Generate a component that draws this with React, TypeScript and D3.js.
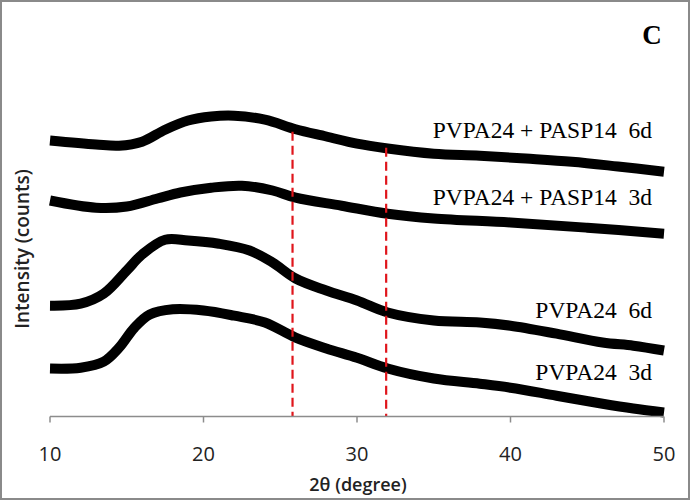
import React from "react";
import * as d3 from "d3";

const xTicks = [10, 20, 30, 40, 50];
const refLines = [25.8, 31.9];

const s1x = [10, 13, 14.5, 16, 17.5, 19, 20.5, 22, 24, 26, 28, 30, 32, 35, 38, 41, 44, 47, 50];
const s1y = [690, 680, 677, 687, 717, 740, 750, 752, 742, 718, 700, 682, 670, 657, 652, 645, 637, 625, 612];
const s2x = [10, 13, 15, 17, 18.5, 20.5, 22.5, 24.5, 26, 29, 32, 35, 40, 45, 50];
const s2y = [540, 522, 525, 545, 560, 572, 577, 565, 547, 527, 507, 495, 485, 472, 457];
const s3x = [10, 12, 13.5, 15, 16, 17.5, 19, 21, 23, 24.5, 26, 28, 30, 32, 35, 38, 40, 43, 46, 48, 50];
const s3y = [277, 282, 307, 365, 405, 442, 440, 432, 415, 385, 345, 315, 290, 260, 240, 235, 227, 207, 185, 177, 165];
const s4x = [10, 12, 13.5, 14.5, 15.5, 16.5, 18, 20, 22, 24, 26, 28, 30, 32, 35, 38, 40, 43, 46, 48, 50];
const s4y = [120, 122, 137, 172, 222, 255, 268, 265, 252, 235, 197, 170, 147, 120, 95, 82, 72, 52, 32, 20, 10];

const labels = ["PVPA24 + PASP14  6d", "PVPA24 + PASP14  3d", "PVPA24  6d", "PVPA24  3d"];
const labelY = [696, 529, 246, 91];

export default function App() {
  const W = 690, H = 500;
  const x = d3.scaleLinear().domain([10, 50]).range([50, 664]);
  const y = d3.scaleLinear().domain([0, 1000]).range([416.5, 16.5]);
  const line = d3
    .line<[number, number]>()
    .x((d) => x(d[0]))
    .y((d) => y(d[1]))
    .curve(d3.curveCatmullRom.alpha(0.5));
  const series = [
    [s1x, s1y],
    [s2x, s2y],
    [s3x, s3y],
    [s4x, s4y],
  ].map(([xs, ys]) => xs.map((v, i) => [v, ys[i]] as [number, number]));

  return (
    <svg width={W} height={H} style={{ position: "absolute", left: 0, top: 0, background: "#fff" }}>
      <rect x={1} y={1} width={W - 2} height={H - 2} fill="#fff" stroke="#8a8a8a" strokeWidth={2} />
      {series.map((pts, i) => (
        <path key={i} d={line(pts) || ""} fill="none" stroke="#000" strokeWidth={10} strokeLinejoin="round" />
      ))}
      {refLines.map((v, i) => (
        <line key={i} x1={x(v)} x2={x(v)} y1={y(i === 0 ? 712 : 672)} y2={y(0)} stroke="#e0151b" strokeWidth={2.2} strokeDasharray="9,5" />
      ))}
      <line x1={x(10)} x2={x(50)} y1={y(0)} y2={y(0)} stroke="#8c8c8c" strokeWidth={1.5} />
      {xTicks.map((t) => (
        <g key={t}>
          <line x1={x(t)} x2={x(t)} y1={y(0)} y2={y(0) + 6} stroke="#8c8c8c" strokeWidth={1.5} />
          <text x={x(t)} y={461} textAnchor="middle" fontFamily="'Open Sans', sans-serif" fontSize={20} fill="#222">
            {t}
          </text>
        </g>
      ))}
      <text x={358} y={491} textAnchor="middle" fontFamily="'Open Sans', sans-serif" fontSize={18} fontWeight={600} fill="#222">
        2θ (degree)
      </text>
      <text transform="translate(29,249) rotate(-90)" textAnchor="middle" fontFamily="'Open Sans', sans-serif" fontSize={19} fontWeight={600} fill="#222">
        Intensity (counts)
      </text>
      {labels.map((l, i) => (
        <text key={i} x={652} y={y(labelY[i])} textAnchor="end" fontFamily="'Liberation Serif', serif" fontSize={23.5} fill="#000" style={{ whiteSpace: "pre" }}>
          {l}
        </text>
      ))}
      <text x={652} y={44} textAnchor="middle" fontFamily="'Liberation Serif', serif" fontSize={27} fontWeight="bold" fill="#000">
        C
      </text>
    </svg>
  );
}
